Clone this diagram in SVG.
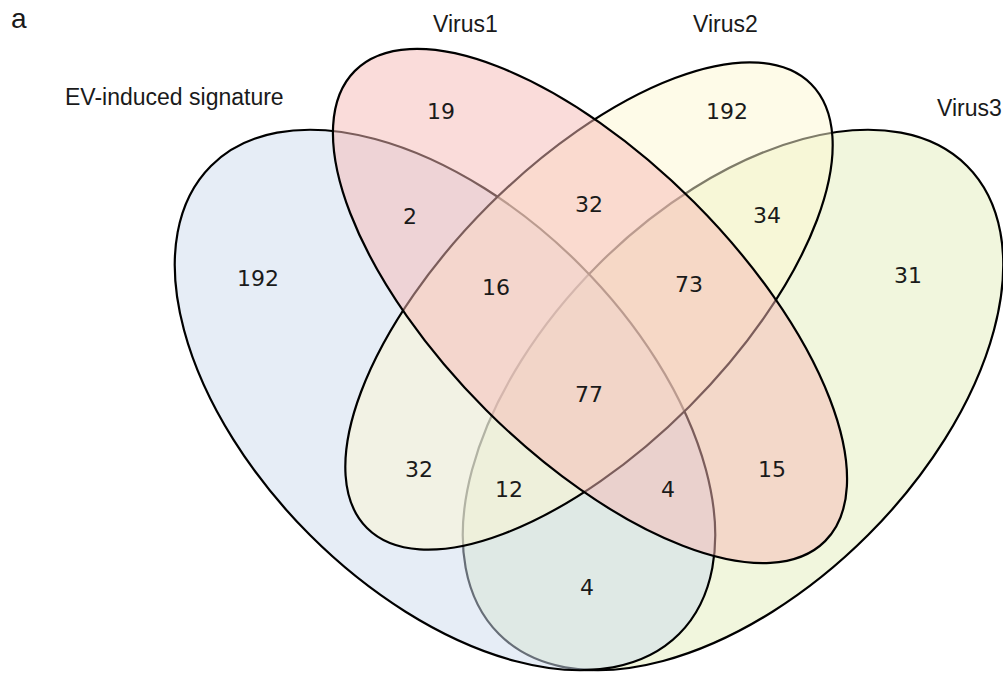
<svg xmlns="http://www.w3.org/2000/svg" width="1003" height="673" viewBox="0 0 1003 673">
<style>
.set{fill-opacity:0.5;stroke:#000;stroke-width:2.2}
.lbl{font-family:"Liberation Sans",Arial,sans-serif;font-size:23px;fill:#1a1a1a}
.num{font-family:"DejaVu Sans",Verdana,sans-serif;font-size:22px;fill:#1a1a1a;text-anchor:middle}
</style>
<rect width="1003" height="673" fill="#fff"/>
<text x="11" y="28" font-family="Liberation Sans,Arial,sans-serif" font-size="28" fill="#1a1a1a">a</text>
<g id="virus3">
<ellipse class="set" cx="733" cy="400" rx="331" ry="191" transform="rotate(-45 733 400)" fill="#e3edbb"/>
<text class="lbl" x="937" y="116">Virus3</text>
</g>
<g id="ev-induced-signature">
<ellipse class="set" cx="445" cy="400" rx="331" ry="191" transform="rotate(45 445 400)" fill="#cddbed"/>
<text class="lbl" x="65" y="105">EV-induced signature</text>
</g>
<g id="virus2">
<ellipse class="set" cx="589" cy="306" rx="314" ry="142" transform="rotate(-45 589 306)" fill="#fdf7d1"/>
<text class="lbl" x="693" y="32">Virus2</text>
</g>
<g id="virus1">
<ellipse class="set" cx="590" cy="306" rx="332.5" ry="147" transform="rotate(45 590 306)" fill="#f5b9b5"/>
<text class="lbl" x="433" y="32">Virus1</text>
</g>
<g id="counts">
<text class="num" x="441" y="119">19</text>
<text class="num" x="727" y="119">192</text>
<text class="num" x="258" y="286">192</text>
<text class="num" x="908" y="283">31</text>
<text class="num" x="410" y="224">2</text>
<text class="num" x="589" y="212">32</text>
<text class="num" x="767" y="223">34</text>
<text class="num" x="496" y="295">16</text>
<text class="num" x="689" y="292">73</text>
<text class="num" x="589" y="402">77</text>
<text class="num" x="419" y="477">32</text>
<text class="num" x="509" y="497">12</text>
<text class="num" x="668" y="497">4</text>
<text class="num" x="772" y="477">15</text>
<text class="num" x="587" y="595">4</text>
</g>
</svg>
